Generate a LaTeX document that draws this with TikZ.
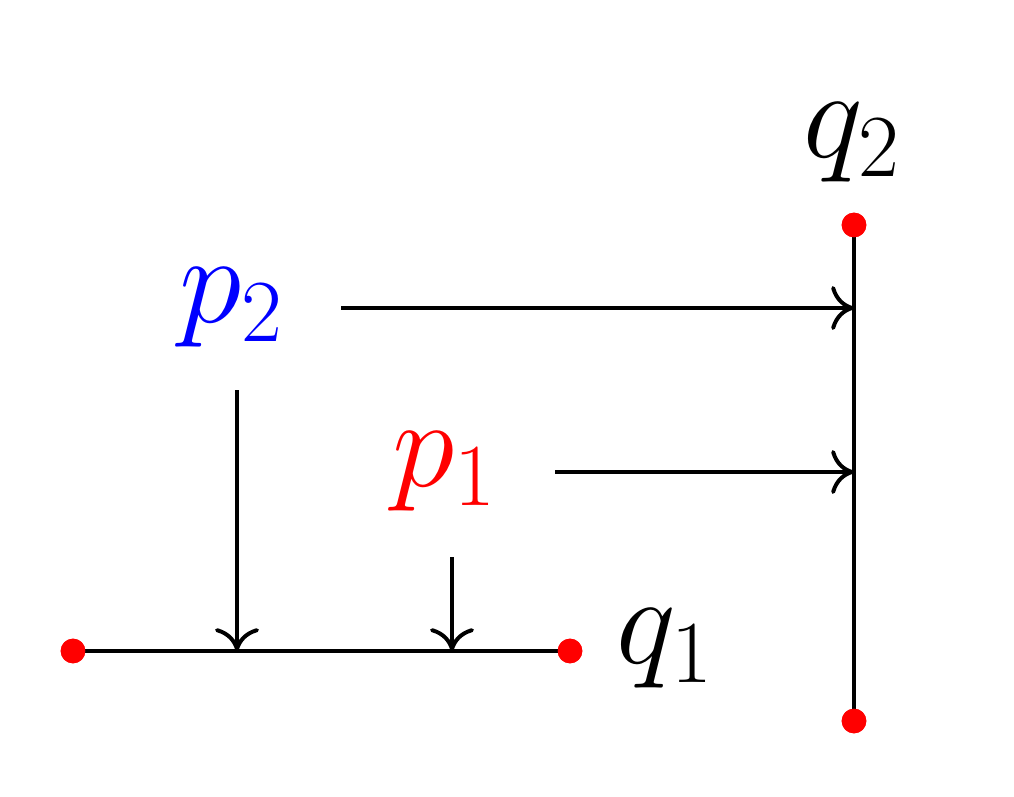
\RequirePackage{fix-cm}
\documentclass[tikz,border=0pt]{standalone}
\usetikzlibrary{arrows.meta}
\begin{document}
\begin{tikzpicture}[x=0.01cm,y=-0.01cm,
  seg/.style={line width=1.13pt},
  arr/.style={line width=1.13pt,-{To[length=6.5pt,width=12.5pt]}},
  dot/.style={circle,fill=red,inner sep=0pt,minimum size=7pt},
  lbl/.style={inner sep=0pt,font=\fontsize{36}{40}\selectfont}]
\useasboundingbox (0,0) rectangle (1014,797);
% endpoints
\node[dot] (a1) at (73,651) {};
\node[dot] (a2) at (570,651) {};
\node[dot] (b1) at (854,225) {};
\node[dot] (b2) at (854,721) {};
\draw[seg] (a1.center) -- (a2.center);
\draw[seg] (b1.center) -- (b2.center);
\node[dot] at (a1) {};
\node[dot] at (a2) {};
\node[dot] at (b1) {};
\node[dot] at (b2) {};
% labels
\node[lbl,text=blue] (p2) at (232,308) {$p_2$};
\node[lbl,text=red] (p1) at (445,472) {$p_1$};
\node[lbl] (q1) at (665,649) {$q_1$};
\node[lbl] (q2) at (852,143) {$q_2$};
% arrow ends
\coordinate (p2r) at (341,308);
\coordinate (p2d) at (237,390);
\coordinate (p1r) at (555,472);
\coordinate (p1d) at (452,557);
\coordinate (h2) at (854,308);
\coordinate (h1) at (854,472);
\coordinate (v2) at (237,651);
\coordinate (v1) at (452,651);
\draw[arr] (p2r) -- (h2);
\draw[arr] (p1r) -- (h1);
\draw[arr] (p2d) -- (v2);
\draw[arr] (p1d) -- (v1);
\end{tikzpicture}
\end{document}
